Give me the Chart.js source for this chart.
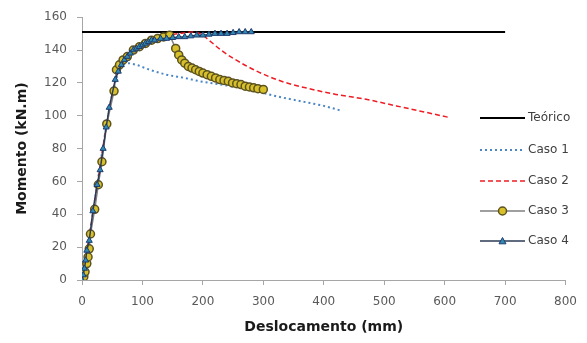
<!DOCTYPE html>
<html>
<head>
<meta charset="utf-8">
<script src="https://cdn.jsdelivr.net/npm/chart.js@4.4.1/dist/chart.umd.min.js"></script>
<style>
  html, body { margin: 0; padding: 0; background: #fff; }
  #wrap { width: 587px; height: 343px; }
</style>
</head>
<body>
<div id="wrap"><canvas id="chart"></canvas></div>
<script>
// Теоретическая линия
const teoricoX = [0, 700];
const teoricoY = [151, 151];

// Caso 1 (пунктир из точек)
const caso1X = [0, 10, 20, 30, 40, 50, 58, 66, 75, 90, 112, 140, 170, 195, 230, 278, 320, 360, 400, 430];
const caso1Y = [0, 22, 45, 70, 93, 113, 124, 130, 132, 131, 128, 125, 123, 121, 119, 116, 112, 109, 106, 103];

// Caso 2 (штрих)
const caso2X = [0, 20, 40, 55, 70, 90, 110, 130, 160, 185, 200, 210, 230, 250, 290, 330, 370, 420, 470, 520, 570, 607];
const caso2Y = [0, 45, 93, 121, 133, 140, 145, 148, 150, 151, 149, 146, 140, 135, 127, 121, 117, 113, 110, 106, 102, 99];

// Caso 3 (круги)
const caso3X = [0, 3, 5, 8, 10, 12, 14, 21, 27, 33, 41, 53, 57, 62, 68, 75, 85, 95, 105, 115, 125, 135, 145,
  155, 160, 165, 170, 176, 182, 188, 194, 200, 207, 214, 221, 228, 235, 242, 249, 256, 263, 270, 277, 284, 291, 300];
const caso3Y = [0, 2, 5, 10, 14, 19, 28, 43, 58, 72, 95, 115, 128, 131, 134, 136, 140, 142, 144, 146, 147, 148, 149,
  141, 137, 134, 132, 130, 129, 128, 127, 126, 125, 124, 123, 122, 121.5, 121, 120, 119.5, 119, 118, 117.5, 117, 116.5, 116];

// Caso 4 (треугольники)
const caso4X = [0, 2, 4, 6, 8, 12, 18, 25, 30, 35, 40, 45, 55, 60, 65, 70, 75, 80, 85, 90, 95, 100, 105, 110, 115,
  120, 130, 140, 150, 160, 170, 180, 190, 200, 210, 220, 230, 240, 250, 260, 270, 280];
const caso4Y = [0, 3, 7, 12, 18, 24, 42, 58, 67, 80, 93, 105, 122, 127, 131, 134, 136, 138, 140, 141, 142, 143, 144, 145, 146,
  146, 147, 147, 147.5, 148, 148, 148.5, 149, 149, 149.5, 150, 150, 150, 150.5, 151, 151, 151];

const xTicks = [0, 100, 200, 300, 400, 500, 600, 700, 800];
const yTicks = [0, 20, 40, 60, 80, 100, 120, 140, 160];

const zip = (xs, ys) => xs.map((x, i) => ({ x, y: ys[i] }));

const FONT = "'DejaVu Sans', sans-serif";

// Легенда справа: линия-образец + маркер
const sideLegend = {
  id: "sideLegend",
  afterDraw(chart) {
    const ctx = chart.ctx;
    const rows = [118, 150, 181, 211, 241];
    const x0 = 480, x1 = 525;
    chart.data.datasets.forEach((ds, i) => {
      const y = rows[i];
      const cx = (x0 + x1) / 2;
      ctx.save();
      ctx.strokeStyle = ds.borderColor;
      ctx.lineWidth = ds.borderWidth;
      ctx.setLineDash(ds.borderDash || []);
      ctx.beginPath();
      ctx.moveTo(x0, y);
      ctx.lineTo(x1, y);
      ctx.stroke();
      ctx.setLineDash([]);
      if (ds.pointRadius > 0) {
        ctx.fillStyle = ds.pointBackgroundColor;
        ctx.strokeStyle = ds.pointBorderColor;
        ctx.lineWidth = ds.pointBorderWidth;
        ctx.beginPath();
        const r = ds.pointRadius;
        if (ds.pointStyle === "triangle") {
          ctx.moveTo(cx, y - r);
          ctx.lineTo(cx + r, y + r * 0.8);
          ctx.lineTo(cx - r, y + r * 0.8);
          ctx.closePath();
        } else {
          ctx.arc(cx, y, r, 0, Math.PI * 2);
        }
        ctx.fill();
        ctx.stroke();
      }
      ctx.fillStyle = "#404040";
      ctx.font = "12px " + FONT;
      ctx.textBaseline = "middle";
      ctx.textAlign = "left";
      ctx.fillText(ds.label, x1 + 3, y);
      ctx.restore();
    });
  },
};

const axisCommon = {
  type: "linear",
  grid: { drawOnChartArea: false, tickLength: 5, color: "#a6a6a6" },
  border: { color: "#a6a6a6", width: 1 },
};

new Chart(document.getElementById("chart"), {
  type: "line",
  data: {
    datasets: [
      {
        label: "Teórico",
        data: zip(teoricoX, teoricoY),
        borderColor: "#000000",
        borderWidth: 2,
        pointRadius: 0,
        order: 4,
      },
      {
        label: "Caso 1",
        data: zip(caso1X, caso1Y),
        borderColor: "#4a86c5",
        borderWidth: 2,
        borderDash: [2, 3],
        pointRadius: 0,
        cubicInterpolationMode: "monotone",
        order: 3,
      },
      {
        label: "Caso 2",
        data: zip(caso2X, caso2Y),
        borderColor: "#ee1c25",
        borderWidth: 1.5,
        borderDash: [5, 3],
        pointRadius: 0,
        cubicInterpolationMode: "monotone",
        order: 2,
      },
      {
        label: "Caso 3",
        data: zip(caso3X, caso3Y),
        borderColor: "#7f7f7f",
        borderWidth: 1.5,
        pointStyle: "circle",
        pointRadius: 4,
        pointBackgroundColor: "#d8c02a",
        pointBorderColor: "#5c5320",
        pointBorderWidth: 1.5,
        order: 1,
      },
      {
        label: "Caso 4",
        data: zip(caso4X, caso4Y),
        borderColor: "#2b3a55",
        borderWidth: 1.5,
        pointStyle: "triangle",
        pointRadius: 3.5,
        pointBackgroundColor: "#2f8bb3",
        pointBorderColor: "#1f3b6e",
        pointBorderWidth: 1,
        order: 0,
      },
    ],
  },
  options: {
    responsive: true,
    maintainAspectRatio: false,
    animation: false,
    layout: { padding: { top: 17, right: 21, left: 0, bottom: 0 } },
    plugins: {
      legend: { display: false },
      tooltip: { enabled: false },
    },
    scales: {
      x: {
        ...axisCommon,
        min: 0,
        max: 800,
        afterBuildTicks: (s) => { s.ticks = xTicks.map((v) => ({ value: v })); },
        afterFit: (s) => { s.height = 63; },
        ticks: { color: "#595959", font: { size: 12, family: FONT }, padding: 10 },
        title: {
          display: true,
          text: "Deslocamento (mm)",
          color: "#1a1a1a",
          font: { size: 14, weight: "bold", family: FONT },
          padding: { top: 0, bottom: 7 },
        },
      },
      y: {
        ...axisCommon,
        min: 0,
        max: 160,
        afterBuildTicks: (s) => { s.ticks = yTicks.map((v) => ({ value: v })); },
        afterFit: (s) => { s.width = 82; },
        ticks: { color: "#595959", font: { size: 12, family: FONT }, padding: 10 },
        title: {
          display: true,
          text: "Momento (kN.m)",
          color: "#1a1a1a",
          font: { size: 14, weight: "bold", family: FONT },
          padding: { top: 14, bottom: 0 },
        },
      },
    },
  },
  plugins: [sideLegend],
});
</script>
</body>
</html>
